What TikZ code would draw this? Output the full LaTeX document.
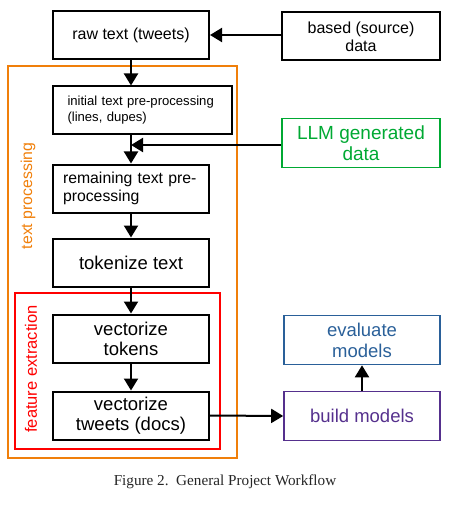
\documentclass[tikz,border=0pt]{standalone}
\usepackage{fontspec}
\setmainfont{Liberation Sans}
\newfontfamily\capfont{Liberation Serif}
\usetikzlibrary{arrows.meta}
\definecolor{cOrange}{HTML}{F07F0A}
\definecolor{cGreen}{HTML}{00A933}
\definecolor{cRed}{HTML}{FF0000}
\definecolor{cBlue}{HTML}{2A6099}
\definecolor{cPurple}{HTML}{55308D}
\tikzset{
  box/.style={draw=black, line width=2pt, minimum width=156pt, minimum height=48pt, inner sep=0pt, align=center, font=\fontsize{18.5}{20}\selectfont},
  cbox/.style={draw=#1, text=#1, line width=1.6pt, minimum width=156pt, minimum height=49pt, inner sep=0pt, align=center, font=\fontsize{18.5}{21}\selectfont},
  arr/.style={line width=2pt, -{Triangle[length=12pt,width=14pt]}},
  grp/.style={line width=2pt}
}
\begin{document}
\begin{tikzpicture}[x=1pt,y=-1pt]
\useasboundingbox (0,0) rectangle (449,513);
% groups
\draw[grp, draw=cOrange] (8,66) rectangle (237,458);
\draw[grp, draw=cRed] (15,293) rectangle (220,449);
\node[rotate=90, text=cOrange, font=\fontsize{15.8}{18}\selectfont] (lbltp) at (28,196) {text processing};
\node[rotate=90, text=cRed, font=\fontsize{16.5}{18}\selectfont] (lblfe) at (31,369) {feature extraction};
% boxes
\node[box, font=\fontsize{16}{18}\selectfont] (raw) at (131,35) {raw text (tweets)};
\node[box, minimum width=158pt, font=\fontsize{16}{18}\selectfont] (based) at (361,36.5) {based (source)\\data};
\node[box, minimum width=179pt, text width=150pt, align=left, font=\fontsize{13.1}{16}\selectfont] (init) at (142.5,110.5) {initial text pre-processing\\(lines, dupes)};
\node[cbox=cGreen, minimum width=158pt, font=\fontsize{19}{20.5}\selectfont] (llm) at (361,143) {LLM generated\\data};
\node[box, text width=136pt, align=left, font=\fontsize{15.8}{18}\selectfont] (remain) at (131,188.5) {remaining text pre-\\processing};
\node[box] (token) at (131,262.5) {tokenize text};
\node[box] (vtok) at (131,338.5) {vectorize\\tokens};
\node[box] (vtw) at (131,415.5) {vectorize\\tweets (docs)};
\node[cbox=cBlue] (eval) at (362,340) {evaluate\\models};
\node[cbox=cPurple] (build) at (362,416) {build models};
% connectors
\coordinate (join) at (131,145);
\draw[arr] (based.west |- raw.east) -- (raw.east);
\draw[arr] (raw.south) -- (raw.south |- init.north);
\draw[arr] (raw.south |- init.south) -- (remain.north);
\draw[arr] (llm.west |- join) -- (join);
\draw[arr] (remain.south) -- (token.north);
\draw[arr] (token.south) -- (vtok.north);
\draw[arr] (vtok.south) -- (vtw.north);
\draw[arr] (vtw.east) -- (build.west);
\draw[arr] (build.north) -- (eval.south);
% caption
\node[text=black!85, font=\capfont\fontsize{15.2}{18}\selectfont] (cap) at (225,482) {Figure 2.\ \ General Project Workflow};
\end{tikzpicture}
\end{document}
